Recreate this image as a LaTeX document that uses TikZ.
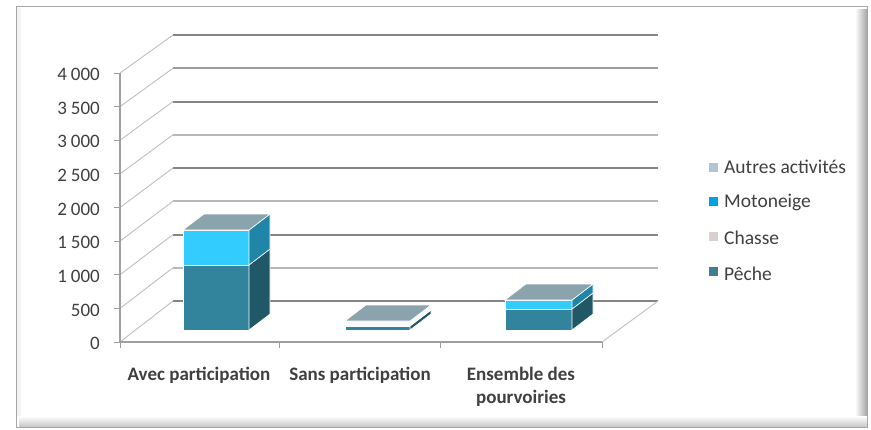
\documentclass[tikz,border=0pt]{standalone}
\usepackage{fontspec}
\setmainfont{Carlito}
\definecolor{pecheface}{HTML}{31849B}
\definecolor{pechecote}{HTML}{215867}
\definecolor{motoface}{HTML}{33CCFF}
\definecolor{motocote}{HTML}{1F86A8}
\definecolor{dessus}{HTML}{8AA3AC}
\definecolor{legautres}{HTML}{B3C4D3}
\definecolor{legmoto}{HTML}{00A2E0}
\definecolor{legchasse}{HTML}{D9D0CF}
\definecolor{legpeche}{HTML}{3F7F93}
\definecolor{textgris}{HTML}{404040}
\definecolor{grilfonce}{HTML}{858585}
\definecolor{grilclair}{HTML}{B8B8B8}
\begin{document}
\begin{tikzpicture}[x=1pt,y=-1pt,
   grille/.style={line width=2pt},
   diag/.style={gray!50, line width=.9pt},
   axe/.style={draw=gray!75, line width=1.4pt},
   barre/.style={draw=white, line width=.6pt},
   valeur/.style={anchor=east, inner sep=0pt, text=textgris, font=\fontsize{19}{21}\selectfont},
   categ/.style={anchor=north, inner sep=0pt, align=center, text=textgris, font=\fontsize{19}{23}\selectfont\bfseries},
   legende/.style={anchor=west, inner sep=0pt, text=textgris, font=\fontsize{19.5}{21}\selectfont}]
   \useasboundingbox (0,0) rectangle (871,429);
   % cadre
   \fill[white] (16,6) rectangle (867,427);
   \shade[left color=white, right color=gray!70] (855,9) rectangle (867,427);
   \shade[top color=white, bottom color=gray!45] (19,416) rectangle (867,427);
   \fill[gray!10] (16,8) rectangle (21,416);
   \draw[gray!70, line width=1pt] (16,6) rectangle (867,427);
   % murs
   \draw[grille, grilfonce] (173,301)--(658,301);\draw[grille, grilclair] (173,267.75)--(658,267.75);
   \draw[grille, grilfonce] (173,234.5)--(658,234.5);\draw[grille, grilclair] (173,201.25)--(658,201.25);
   \draw[grille, grilfonce] (173,168)--(658,168);\draw[grille, grilclair] (173,134.75)--(658,134.75);
   \draw[grille, grilfonce] (173,101.5)--(658,101.5);\draw[grille, grilfonce!80] (173,68.25)--(658,68.25);
   \draw[grille, grilfonce] (173,35)--(658,35);
   \draw[diag] (120,342)--(173,301);\draw[diag] (120,308.4)--(173,267.75);\draw[diag] (120,274.75)--(173,234.5);
   \draw[diag] (120,241.1)--(173,201.25);\draw[diag] (120,207.5)--(173,168);\draw[diag] (120,173.9)--(173,134.75);
   \draw[diag] (120,140.25)--(173,101.5);\draw[diag] (120,106.6)--(173,68.25);\draw[diag] (120,73)--(173,35);
   \draw[diag] (602,342)--(658,301);
   % axes
   \draw[axe] (120,73)--(120,342)--(602,342);
   \draw[axe, line width=1pt] (114,342)--(120,342);\draw[axe, line width=1pt] (114,308.4)--(120,308.4);
   \draw[axe, line width=1pt] (114,274.75)--(120,274.75);\draw[axe, line width=1pt] (114,241.1)--(120,241.1);
   \draw[axe, line width=1pt] (114,207.5)--(120,207.5);\draw[axe, line width=1pt] (114,173.9)--(120,173.9);
   \draw[axe, line width=1pt] (114,140.25)--(120,140.25);\draw[axe, line width=1pt] (114,106.6)--(120,106.6);
   \draw[axe, line width=1pt] (114,73)--(120,73);
   \draw[axe, line width=1pt] (120,342)--(120,348);\draw[axe, line width=1pt] (279,342)--(279,348);
   \draw[axe, line width=1pt] (440,342)--(440,348);\draw[axe, line width=1pt] (602,342)--(602,348);
   \node[valeur] (v0) at (100,343.5) {0};
   \node[valeur] (v500) at (100,309.9) {500};
   \node[valeur] (v1000) at (100,276.25) {1\hspace{.2em}000};
   \node[valeur] (v1500) at (100,242.6) {1\hspace{.2em}500};
   \node[valeur] (v2000) at (100,209) {2\hspace{.2em}000};
   \node[valeur] (v2500) at (100,175.4) {2\hspace{.2em}500};
   \node[valeur] (v3000) at (100,141.75) {3\hspace{.2em}000};
   \node[valeur] (v3500) at (100,108.1) {3\hspace{.2em}500};
   \node[valeur] (v4000) at (100,74.5) {4\hspace{.2em}000};
   % barre avec participation
   \filldraw[barre, fill=pecheface] (183,330) rectangle (249,265);
   \filldraw[barre, fill=motoface] (183,265) rectangle (249,230);
   \filldraw[barre, fill=pechecote] (249,330)--(270,314)--(270,249)--(249,265)--cycle;
   \filldraw[barre, fill=motocote] (249,265)--(270,249)--(270,214)--(249,230)--cycle;
   \filldraw[barre, fill=dessus] (183,230)--(204,214)--(270,214)--(249,230)--cycle;
   % barre sans participation
   \filldraw[barre, fill=pecheface] (345,330) rectangle (410,326);
   \filldraw[barre, fill=gray!5] (345,326) rectangle (410,321);
   \filldraw[barre, fill=pechecote] (410,330)--(431,314)--(431,310)--(410,326)--cycle;
   \filldraw[barre, fill=gray!5] (410,326)--(431,310)--(431,305)--(410,321)--cycle;
   \filldraw[barre, fill=dessus] (345,321)--(366,305)--(431,305)--(410,321)--cycle;
   % barre ensemble
   \filldraw[barre, fill=pecheface] (505,330) rectangle (572,309);
   \filldraw[barre, fill=motoface] (505,309) rectangle (572,300);
   \filldraw[barre, fill=pechecote] (572,330)--(593,314)--(593,293)--(572,309)--cycle;
   \filldraw[barre, fill=motocote] (572,309)--(593,293)--(593,284)--(572,300)--cycle;
   \filldraw[barre, fill=dessus] (505,300)--(526,284)--(593,284)--(572,300)--cycle;
   % categories
   \node[categ] (avec) at (199,366.5) {Avec participation};
   \node[categ] (sans) at (360,366.5) {Sans participation};
   \node[categ] (ensemble) at (521,366.5) {Ensemble des\\pourvoiries};
   % legende
   \fill[legautres] (709,163) rectangle (718,172);\node[legende] (lautres) at (724,167) {Autres activités};
   \fill[legmoto] (709,197) rectangle (718,206);\node[legende] (lmoto) at (724,202) {Motoneige};
   \fill[legchasse] (709,232) rectangle (718,241);\node[legende] (lchasse) at (724,238) {Chasse};
   \fill[legpeche] (709,267) rectangle (718,276);\node[legende] (lpeche) at (724,274) {Pêche};
\end{tikzpicture}
\end{document}
